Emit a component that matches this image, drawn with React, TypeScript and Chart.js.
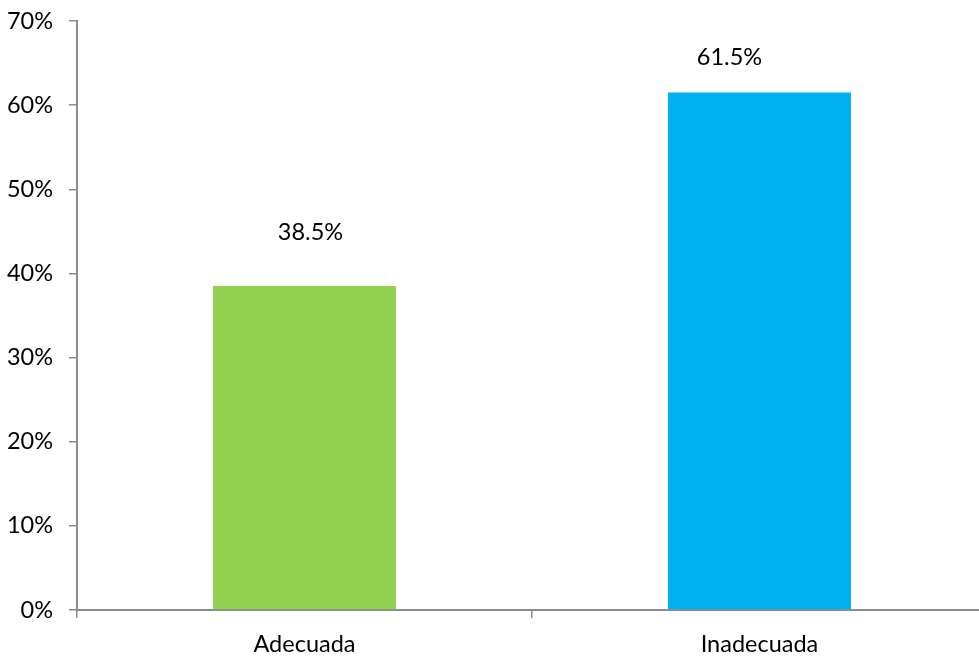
import React, { useEffect, useRef } from "react";
import { Chart, registerables } from "chart.js";

Chart.register(...registerables);

const categories = ["Adecuada", "Inadecuada"];
const values = [38.5, 61.5];
const barColors = ["#92D050", "#00B0F0"];
const yMax = 70;
const yStep = 10;

const FONT = "Lato, 'Open Sans', sans-serif";
const FONT_SIZE = 23.5;

const labelPlugin = {
  id: "barLabels",
  afterDatasetsDraw(chart: any, _args: any, opts: any) {
    const ctx = chart.ctx;
    const meta = chart.getDatasetMeta(0);
    ctx.save();
    ctx.font = `${FONT_SIZE}px ${FONT}`;
    ctx.fillStyle = "#000";
    ctx.textAlign = "center";
    ctx.textBaseline = "middle";
    meta.data.forEach((bar: any, i: number) => {
      const v = values[i];
      ctx.fillText(v.toFixed(1) + "%", bar.x + opts.dx[i], bar.y + opts.dy[i]);
    });
    ctx.restore();
  },
};

export default function App() {
  const ref = useRef<HTMLCanvasElement>(null);
  useEffect(() => {
    if (!ref.current) return;
    const chart = new Chart(ref.current, {
      type: "bar",
      data: {
        labels: categories,
        datasets: [
          {
            data: values,
            backgroundColor: barColors,
            borderWidth: 0,
            categoryPercentage: 1,
            barPercentage: 0.402,
          },
        ],
      },
      options: {
        responsive: false,
        animation: false,
        devicePixelRatio: 1,
        layout: { autoPadding: false, padding: { top: 21, right: 13, left: 0, bottom: 0 } },
        plugins: {
          legend: { display: false },
          tooltip: { enabled: false },
          barLabels: { dx: [6, -30], dy: [-54, -35] },
        } as any,
        scales: {
          y: {
            min: 0,
            max: yMax,
            afterFit: (s: any) => {
              s.width = 77;
              s.paddingTop = 0;
              s.paddingBottom = 0;
            },
            ticks: {
              stepSize: yStep,
              callback: (v: any) => v + "%",
              color: "#000",
              padding: 16,
              font: { family: FONT, size: FONT_SIZE },
            },
            grid: {
              drawOnChartArea: false,
              drawTicks: true,
              tickLength: 8,
              color: "#8c8c8c",
              lineWidth: 1.5,
            },
            border: { color: "#8c8c8c", width: 2 },
          },
          x: {
            afterFit: (s: any) => {
              s.height = 46;
              s.paddingLeft = 0;
              s.paddingRight = 0;
            },
            ticks: {
              color: "#000",
              padding: 12,
              font: { family: FONT, size: FONT_SIZE },
            },
            grid: {
              offset: true,
              drawOnChartArea: false,
              drawTicks: true,
              tickLength: 8,
              color: "#8c8c8c",
              lineWidth: 1.5,
            },
            border: { color: "#8c8c8c", width: 2 },
          },
        },
      },
      plugins: [labelPlugin],
    });
    return () => chart.destroy();
  }, []);
  return (
    <div
      style={{
        position: "fixed",
        left: 0,
        top: 0,
        width: 979,
        height: 656,
        overflow: "hidden",
        background: "#fff",
      }}
    >
      <canvas ref={ref} width={1000} height={656} style={{ display: "block" }} />
    </div>
  );
}
